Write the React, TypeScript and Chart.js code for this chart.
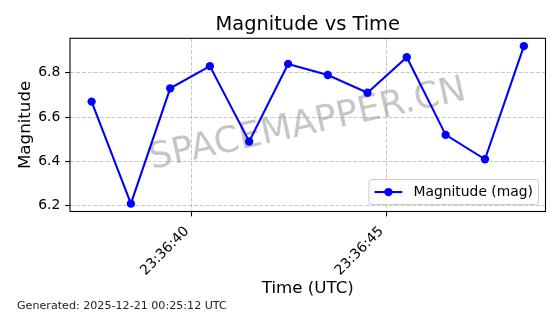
import React, { useEffect, useRef } from "react";
import { Chart, registerables } from "chart.js";

Chart.register(...registerables);

// ---- data ----
const chartTitle = "Magnitude vs Time";
const seriesLabel = "Magnitude (mag)";
const timeStamps = [
  "23:36:37.42", "23:36:38.43", "23:36:39.44", "23:36:40.46",
  "23:36:41.47", "23:36:42.47", "23:36:43.49", "23:36:44.51",
  "23:36:45.52", "23:36:46.52", "23:36:47.53", "23:36:48.53",
];
const magnitudes = [6.67, 6.21, 6.73, 6.83, 6.49, 6.84, 6.79, 6.71, 6.87, 6.52, 6.41, 6.92];
const xTickLabels = ["23:36:40", "23:36:45"];
const yTickValues = [6.2, 6.4, 6.6, 6.8];
const xAxisTitle = "Time (UTC)";
const yAxisTitle = "Magnitude";
const watermarkText = "SPACEMAPPER.CN";
const footerText = "Generated: 2025-12-21 00:25:12 UTC";

const FONT = "'DejaVu Sans', sans-serif";

function toSeconds(s: string): number {
  const [h, m, sec] = s.split(":");
  return Number(h) * 3600 + Number(m) * 60 + Number(sec);
}

function padded(vals: number[]): [number, number] {
  const mn = Math.min(...vals);
  const mx = Math.max(...vals);
  const d = (mx - mn) * 0.05;
  return [mn - d, mx + d];
}

const decorPlugin = {
  id: "decor",
  beforeDatasetsDraw(chart: any) {
    const { ctx, chartArea } = chart;
    const cx = (chartArea.left + chartArea.right) / 2;
    const cy = (chartArea.top + chartArea.bottom) / 2;
    ctx.save();
    ctx.translate(cx, cy);
    ctx.rotate((-12.5 * Math.PI) / 180);
    ctx.font = `36px ${FONT}`;
    ctx.fillStyle = "rgba(128,128,128,0.45)";
    ctx.textAlign = "center";
    ctx.textBaseline = "middle";
    ctx.fillText(watermarkText, 0, 0);
    ctx.restore();
  },
  afterDatasetsDraw(chart: any) {
    const { ctx, chartArea } = chart;
    // frame
    ctx.save();
    ctx.strokeStyle = "#000";
    ctx.lineWidth = 1.1;
    ctx.strokeRect(chartArea.left, chartArea.top, chartArea.right - chartArea.left, chartArea.bottom - chartArea.top);
    ctx.restore();

    // legend (lower right)
    const fs = 13.89;
    const ds = chart.data.datasets[0];
    ctx.save();
    ctx.font = `${fs}px ${FONT}`;
    const tw = ctx.measureText(ds.label).width;
    const borderPad = 0.4 * fs;
    const handleLen = 2 * fs;
    const textPad = 0.8 * fs;
    const w = borderPad * 2 + handleLen + textPad + tw;
    const h = 25;
    const right = chartArea.right - 0.5 * fs;
    const bottom = chartArea.bottom - 0.5 * fs;
    const left = right - w;
    const top = bottom - h;
    ctx.beginPath();
    ctx.roundRect(left, top, w, h, 3);
    ctx.fillStyle = "rgba(255,255,255,0.8)";
    ctx.fill();
    ctx.strokeStyle = "#cccccc";
    ctx.lineWidth = 1;
    ctx.stroke();
    const my = top + h / 2;
    const hx0 = left + borderPad;
    ctx.beginPath();
    ctx.moveTo(hx0, my);
    ctx.lineTo(hx0 + handleLen, my);
    ctx.strokeStyle = ds.borderColor;
    ctx.lineWidth = ds.borderWidth;
    ctx.stroke();
    ctx.beginPath();
    ctx.arc(hx0 + handleLen / 2, my, ds.pointRadius, 0, Math.PI * 2);
    ctx.fillStyle = ds.pointBackgroundColor;
    ctx.fill();
    ctx.fillStyle = "#000";
    ctx.textAlign = "left";
    ctx.textBaseline = "middle";
    ctx.fillText(ds.label, hx0 + handleLen + textPad, my + 0.5);
    ctx.restore();
  },
  afterDraw(chart: any) {
    const { ctx } = chart;
    ctx.save();
    ctx.font = `11.11px ${FONT}`;
    ctx.fillStyle = "#222";
    ctx.textAlign = "left";
    ctx.textBaseline = "alphabetic";
    ctx.fillText(footerText, 17, 309.3);
    ctx.restore();
  },
};

export default function App() {
  const canvasRef = useRef<HTMLCanvasElement | null>(null);

  useEffect(() => {
    document.body.style.margin = "0";
    const canvas = canvasRef.current;
    if (!canvas) return;
    const xs = timeStamps.map(toSeconds);
    const [xMin, xMax] = padded(xs);
    const [yMin, yMax] = padded(magnitudes);
    const xTickValues = xTickLabels.map(toSeconds);

    const gridCommon = {
      color: "rgba(176,176,176,0.7)",
      lineWidth: 1,
      drawTicks: true,
      tickLength: 4.86,
      tickColor: "#000",
      tickWidth: 1.1,
      tickBorderDash: [],
    };

    const chart = new Chart(canvas, {
      type: "line",
      data: {
        datasets: [
          {
            label: seriesLabel,
            data: xs.map((x, i) => ({ x, y: magnitudes[i] })),
            borderColor: "#0000ff",
            backgroundColor: "#0000ff",
            borderWidth: 2.08,
            pointRadius: 4.17,
            pointBorderWidth: 0,
            pointBackgroundColor: "#0000ff",
            pointBorderColor: "#0000ff",
            tension: 0,
            fill: false,
          },
        ],
      },
      options: {
        animation: false,
        responsive: false,
        devicePixelRatio: 1,
        layout: { padding: { left: 0, right: 14.5, top: 0, bottom: 0 } },
        plugins: {
          legend: { display: false },
          tooltip: { enabled: false },
          title: {
            display: true,
            fullSize: false,
            text: chartTitle,
            color: "#000",
            font: { family: FONT, size: 19.44, weight: "normal" },
            padding: { top: 13.3, bottom: 1.67 },
          },
        },
        scales: {
          x: {
            type: "linear",
            min: xMin,
            max: xMax,
            afterBuildTicks: (s: any) => {
              s.ticks = xTickValues.map((v) => ({ value: v }));
            },
            afterFit: (s: any) => {
              s.height = 102.5;
            },
            ticks: {
              autoSkip: false,
              minRotation: 45,
              maxRotation: 45,
              color: "#000",
              padding: 6.9,
              labelOffset: -5,
              font: { family: FONT, size: 13.89 },
              callback: (_v: any, i: number) => xTickLabels[i],
            },
            grid: gridCommon,
            border: { display: false, dash: [4.1, 1.8] },
            title: {
              display: true,
              text: xAxisTitle,
              color: "#000",
              font: { family: FONT, size: 16.67 },
              padding: { top: 0, bottom: 15.5 },
            },
          },
          y: {
            type: "linear",
            min: yMin,
            max: yMax,
            afterBuildTicks: (s: any) => {
              s.ticks = yTickValues.map((v) => ({ value: v }));
            },
            afterFit: (s: any) => {
              s.width = 70;
            },
            ticks: {
              color: "#000",
              padding: 4.86,
              font: { family: FONT, size: 13.89 },
              callback: (v: any) => Number(v).toFixed(1),
            },
            grid: gridCommon,
            border: { display: false, dash: [4.1, 1.8] },
            title: {
              display: true,
              text: yAxisTitle,
              color: "#000",
              font: { family: FONT, size: 16.67 },
              padding: { top: 15.7, bottom: 0 },
            },
          },
        },
      },
      plugins: [decorPlugin],
    } as any);

    return () => chart.destroy();
  }, []);

  return (
    <div style={{ position: "absolute", left: 0, top: 0, width: 560, height: 314, background: "#fff" }}>
      <canvas ref={canvasRef} width={560} height={314} style={{ width: 560, height: 314, display: "block" }} />
    </div>
  );
}
